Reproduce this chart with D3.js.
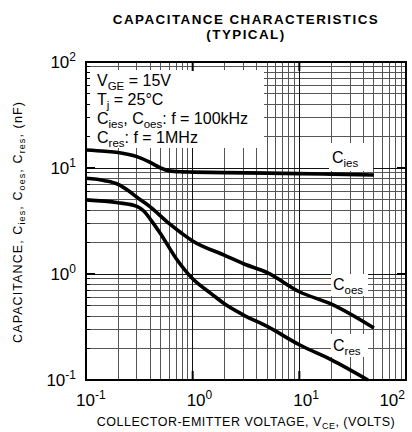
<!DOCTYPE html>
<html><head><meta charset="utf-8">
<script src="https://cdn.jsdelivr.net/npm/d3@7"></script>
<style>
html,body{margin:0;padding:0;background:#fff;}
text{font-family:"Liberation Sans",Arial,Helvetica,sans-serif;fill:#000;}
</style></head>
<body><svg id="c" width="412" height="432"></svg>
<script>
// ---- data ----
const ciesV = [0.1, 0.15, 0.2, 0.3, 0.4, 0.5, 0.6, 0.8, 1, 2, 5, 10, 20, 50];
const ciesC = [14.8, 14.4, 14.0, 12.8, 11.3, 10.0, 9.4, 9.2, 9.15, 9.05, 8.95, 8.85, 8.75, 8.6];
const coesV = [0.1, 0.15, 0.2, 0.25, 0.3, 0.4, 0.6, 0.8, 1, 2, 3, 5, 10, 20, 50];
const coesC = [8.0, 7.6, 7.0, 6.1, 5.3, 4.3, 3.0, 2.4, 2.05, 1.5, 1.25, 1.03, 0.68, 0.52, 0.31];
const cresV = [0.1, 0.2, 0.3, 0.35, 0.4, 0.5, 0.7, 1, 1.5, 2, 3, 5, 10, 20, 44];
const cresC = [5.0, 4.7, 4.35, 3.9, 3.3, 2.4, 1.4, 0.9, 0.65, 0.52, 0.41, 0.32, 0.215, 0.155, 0.1];
const decadeTicks = [0.1, 1, 10, 100];
const tickExp = ["-1", "0", "1", "2"];
const minorMult = [2, 3, 4, 5, 6, 7, 8, 9];
const title1 = "CAPACITANCE CHARACTERISTICS";
const title2 = "(TYPICAL)";
const legendLines = [
  [["V", 0], ["GE", 1], [" = 15V", 0]],
  [["T", 0], ["j", 1], [" = 25°C", 0]],
  [["C", 0], ["ies", 1], [", C", 0], ["oes", 1], [": f = 100kHz", 0]],
  [["C", 0], ["res", 1], [": f = 1MHz", 0]]
];

const svg = d3.select("#c");
const x = d3.scaleLog().domain([0.1, 100]).range([86, 406]);
const y = d3.scaleLog().domain([0.1, 100]).range([380, 62]);
const [x0, x1] = x.range(); const [y0, y1] = y.range();

// grid
const minorVals = [];
[0.1, 1, 10].forEach(d => minorMult.forEach(m => minorVals.push(m * d)));
const g = svg.append("g");
g.selectAll(".vx").data(minorVals).join("line")
  .attr("x1", d => x(d)).attr("x2", d => x(d)).attr("y1", y1).attr("y2", y0)
  .attr("stroke", "#555").attr("stroke-width", 1).attr("shape-rendering", "crispEdges");
g.selectAll(".hy").data(minorVals).join("line")
  .attr("y1", d => y(d)).attr("y2", d => y(d)).attr("x1", x0).attr("x2", x1)
  .attr("stroke", "#555").attr("stroke-width", 1).attr("shape-rendering", "crispEdges");
g.selectAll(".vmaj").data([1, 10]).join("line")
  .attr("x1", d => x(d)).attr("x2", d => x(d)).attr("y1", y1).attr("y2", y0)
  .attr("stroke", "#111").attr("stroke-width", 1).attr("shape-rendering", "crispEdges");
g.selectAll(".hmaj").data([1, 10]).join("line")
  .attr("y1", d => y(d)).attr("y2", d => y(d)).attr("x1", x0).attr("x2", x1)
  .attr("stroke", "#111").attr("stroke-width", 1).attr("shape-rendering", "crispEdges");

// white boxes (legend and labels)
svg.append("rect").attr("x", x0 + 1).attr("y", 70).attr("width", 177).attr("height", 78).attr("fill", "#fff");
const labelBoxes = [[329, 143, 44, 28], [331, 274, 37, 22], [331, 334, 37, 23]];
svg.selectAll(".lb").data(labelBoxes).join("rect")
  .attr("x", d => d[0]).attr("y", d => d[1]).attr("width", d => d[2]).attr("height", d => d[3]).attr("fill", "#fff");

// minor ticks left
svg.selectAll(".mt").data(minorVals).join("line")
  .attr("x1", x0).attr("x2", x0 + 4).attr("y1", d => y(d)).attr("y2", d => y(d))
  .attr("stroke", "#000").attr("stroke-width", 1).attr("shape-rendering", "crispEdges");
// major ticks inside
[1, 10].forEach(d => {
  svg.append("line").attr("x1", x0).attr("x2", x0 + 9).attr("y1", y(d)).attr("y2", y(d)).attr("stroke", "#000").attr("stroke-width", 2);
  svg.append("line").attr("x1", x1 - 9).attr("x2", x1).attr("y1", y(d)).attr("y2", y(d)).attr("stroke", "#000").attr("stroke-width", 2);
  svg.append("line").attr("y1", y0).attr("y2", y0 - 9).attr("x1", x(d)).attr("x2", x(d)).attr("stroke", "#000").attr("stroke-width", 2);
  svg.append("line").attr("y1", y1).attr("y2", y1 + 9).attr("x1", x(d)).attr("x2", x(d)).attr("stroke", "#000").attr("stroke-width", 2);
});

// curves
const line = d3.line().x(d => x(d[0])).y(d => y(d[1])).curve(d3.curveMonotoneX);
[[ciesV, ciesC], [coesV, coesC], [cresV, cresC]].forEach(([v, c]) => {
  svg.append("path").datum(v.map((vv, i) => [vv, c[i]])).attr("d", line)
    .attr("fill", "none").attr("stroke", "#000").attr("stroke-width", 3.6).attr("stroke-linecap", "butt");
});

// border
svg.append("rect").attr("x", x0).attr("y", y1).attr("width", x1 - x0).attr("height", y0 - y1)
  .attr("fill", "none").attr("stroke", "#000").attr("stroke-width", 2);

// tick labels
decadeTicks.forEach((d, i) => {
  const t = svg.append("text").attr("x", 76).attr("y", y(d) + 6).attr("text-anchor", "end").attr("font-size", 17);
  t.append("tspan").text("10");
  t.append("tspan").attr("dy", -7).attr("font-size", 12).text(tickExp[i]);
  const last = i === decadeTicks.length - 1;
  const tx = svg.append("text")
    .attr("x", last ? x1 - 1 : x(d) - (i === 0 ? 10 : 6))
    .attr("y", 406).attr("text-anchor", last ? "end" : "start").attr("font-size", 17);
  tx.append("tspan").text("10");
  tx.append("tspan").attr("dy", -7).attr("font-size", 12).text(tickExp[i]);
});

// rich text helper
function rich(sel, parts, big, small) {
  parts.forEach(([s, sub], i) => {
    const prev = i > 0 ? parts[i - 1][1] : 0;
    const dy = sub && !prev ? small * 0.35 : (!sub && prev ? -small * 0.35 : 0);
    sel.append("tspan").attr("dy", dy).attr("font-size", sub ? small : big).text(s);
  });
}

// legend
legendLines.forEach((parts, i) => {
  const t = svg.append("text").attr("x", 97).attr("y", 85.5 + i * 19.3);
  rich(t, parts, 16, 11.5);
});

// curve labels
[[332, 163, [["C", 0], ["ies", 1]]], [333, 290, [["C", 0], ["oes", 1]]], [333, 351, [["C", 0], ["res", 1]]]]
  .forEach(([lx, ly, parts]) => {
    const t = svg.append("text").attr("x", lx).attr("y", ly);
    rich(t, parts, 16, 11.5);
  });

// titles
svg.append("text").attr("x", 246).attr("y", 23.5).attr("text-anchor", "middle").attr("font-size", 13.4)
  .attr("letter-spacing", 1.45).attr("font-weight", "bold").text(title1);
svg.append("text").attr("x", 246).attr("y", 38.6).attr("text-anchor", "middle").attr("font-size", 13.4)
  .attr("letter-spacing", 1.45).attr("font-weight", "bold").text(title2);

// axis titles
const xt = svg.append("text").attr("x", 246).attr("y", 426).attr("text-anchor", "middle").attr("letter-spacing", 0.5);
rich(xt, [["COLLECTOR-EMITTER VOLTAGE, V", 0], ["CE", 1], [", (VOLTS)", 0]], 12.5, 9);
const yt = svg.append("text").attr("transform", "translate(22,222) rotate(-90)").attr("text-anchor", "middle").attr("letter-spacing", 1.1);
rich(yt, [["CAPACITANCE, C", 0], ["ies", 1], [", C", 0], ["oes", 1], [", C", 0], ["res", 1], [", (nF)", 0]], 12.5, 9);
</script></body></html>
